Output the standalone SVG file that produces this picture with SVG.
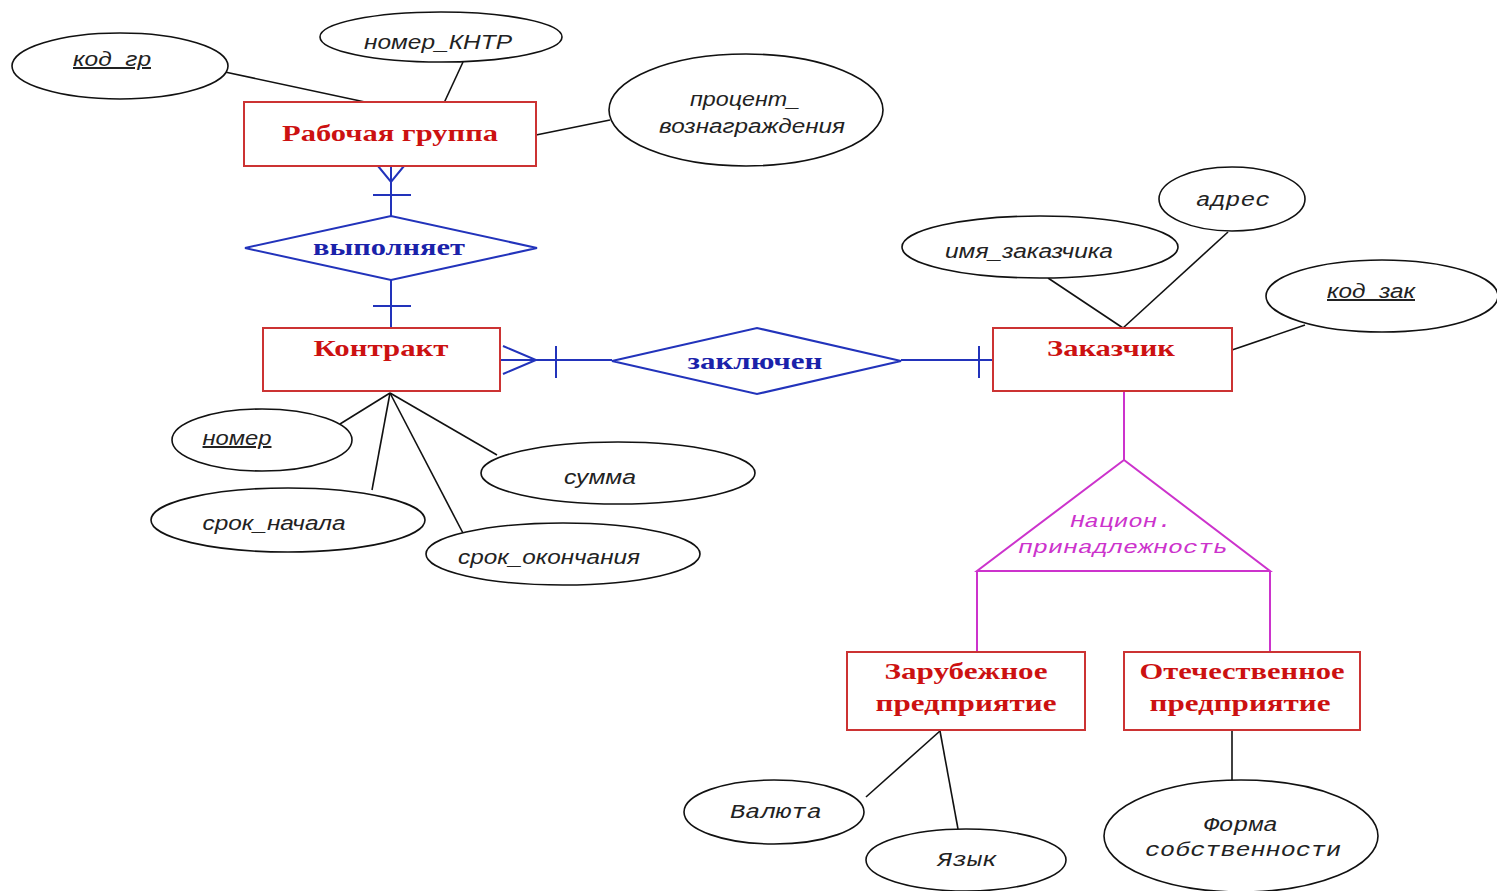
<svg xmlns="http://www.w3.org/2000/svg" width="1497" height="891" viewBox="0 0 1497 891">
<style>
.ent rect{fill:#fff;stroke:#cc3333;stroke-width:2}
.ent text{font-family:"Liberation Serif",serif;font-weight:bold;font-size:24px;fill:#cc1111;text-anchor:middle}
.rel polygon{fill:#fff;stroke:#2233bb;stroke-width:2}
.rel text{font-family:"Liberation Serif",serif;font-weight:bold;font-size:24px;fill:#1a22aa;text-anchor:middle}
.att ellipse{fill:#fff;stroke:#111;stroke-width:1.6}
.att text{font-family:"Liberation Sans",sans-serif;font-style:italic;font-size:20px;fill:#222;text-anchor:middle}
.att text.mono{font-family:"Liberation Mono",monospace}
.u{text-decoration:underline}
.ln{stroke:#111;stroke-width:1.6;fill:none}
.bl{stroke:#2233bb;stroke-width:2;fill:none}
.mg{stroke:#cc33cc;stroke-width:2;fill:none}
.mgt{font-family:"Liberation Mono",monospace;font-style:italic;font-size:19px;fill:#cc33cc;text-anchor:middle}
</style>
<rect width="1497" height="891" fill="#fff"/>
<g id="connectors">
<line class="ln" x1="225" y1="72" x2="365" y2="102"/>
<line class="ln" x1="463" y1="62" x2="444" y2="103"/>
<line class="ln" x1="536" y1="135" x2="610" y2="120"/>
<line class="bl" x1="391" y1="166" x2="391" y2="216"/>
<path class="bl" d="M378,166 L391,182 L404,166"/>
<line class="bl" x1="373" y1="195" x2="411" y2="195"/>
<line class="bl" x1="391" y1="280" x2="391" y2="328"/>
<line class="bl" x1="373" y1="306" x2="411" y2="306"/>
<line class="bl" x1="500" y1="360" x2="612" y2="360"/>
<path class="bl" d="M503,346 L536,360 L503,374"/>
<line class="bl" x1="556" y1="346" x2="556" y2="378"/>
<line class="bl" x1="901" y1="360" x2="993" y2="360"/>
<line class="bl" x1="979" y1="346" x2="979" y2="378"/>
<line class="ln" x1="1048" y1="278" x2="1123" y2="328"/>
<line class="ln" x1="1228" y1="232" x2="1123" y2="328"/>
<line class="ln" x1="1232" y1="350" x2="1305" y2="325"/>
<line class="ln" x1="390" y1="393" x2="340" y2="424"/>
<line class="ln" x1="390" y1="393" x2="372" y2="490"/>
<line class="ln" x1="390" y1="393" x2="465" y2="537"/>
<line class="ln" x1="390" y1="393" x2="497" y2="455"/>
<line class="mg" x1="1124" y1="392" x2="1124" y2="460"/>
<path class="mg" d="M1124,460 L977,571 L1270,571 Z"/>
<line class="mg" x1="977" y1="571" x2="977" y2="652"/>
<line class="mg" x1="1270" y1="571" x2="1270" y2="652"/>
<line class="ln" x1="940" y1="731" x2="866" y2="797"/>
<line class="ln" x1="940" y1="731" x2="958" y2="829"/>
<line class="ln" x1="1232" y1="731" x2="1232" y2="780"/>
</g>
<g id="label-nacion"><text class="mgt" x="1121" y="527" textLength="102" lengthAdjust="spacingAndGlyphs">Национ.</text><text class="mgt" x="1123" y="553" textLength="210" lengthAdjust="spacingAndGlyphs">принадлежность</text></g>
<g id="e-rab" class="ent"><rect x="244" y="102" width="292" height="64"/><text x="390" y="141" textLength="216" lengthAdjust="spacingAndGlyphs">Рабочая группа</text></g>
<g id="e-kontrakt" class="ent"><rect x="263" y="328" width="237" height="63"/><text x="381" y="356" textLength="135" lengthAdjust="spacingAndGlyphs">Контракт</text></g>
<g id="e-zakazchik" class="ent"><rect x="993" y="328" width="239" height="63"/><text x="1111" y="356" textLength="128" lengthAdjust="spacingAndGlyphs">Заказчик</text></g>
<g id="e-zarub" class="ent"><rect x="847" y="652" width="238" height="78"/><text x="966" y="679" textLength="163" lengthAdjust="spacingAndGlyphs">Зарубежное</text><text x="966" y="711" textLength="181" lengthAdjust="spacingAndGlyphs">предприятие</text></g>
<g id="e-otech" class="ent"><rect x="1124" y="652" width="236" height="78"/><text x="1242" y="679" textLength="205" lengthAdjust="spacingAndGlyphs">Отечественное</text><text x="1240" y="711" textLength="181" lengthAdjust="spacingAndGlyphs">предприятие</text></g>
<g id="r-vypolnyaet" class="rel"><polygon points="245,248 391,216 537,248 391,280"/><text x="389" y="255" textLength="152" lengthAdjust="spacingAndGlyphs">выполняет</text></g>
<g id="r-zaklyuchen" class="rel"><polygon points="612,361 757,328 901,361 757,394"/><text x="755" y="369" textLength="135" lengthAdjust="spacingAndGlyphs">заключен</text></g>
<g id="a-kodgr" class="att"><ellipse cx="120" cy="66" rx="108" ry="33"/><text class="u" x="112" y="66" textLength="78" lengthAdjust="spacingAndGlyphs">код_гр</text></g>
<g id="a-nomerkntr" class="att"><ellipse cx="441" cy="37" rx="121" ry="25"/><text x="438" y="49" textLength="148" lengthAdjust="spacingAndGlyphs">номер_КНТР</text></g>
<g id="a-procent" class="att"><ellipse cx="746" cy="110" rx="137" ry="56"/><text x="745" y="106" textLength="110" lengthAdjust="spacingAndGlyphs">процент_</text><text x="752" y="133" textLength="186" lengthAdjust="spacingAndGlyphs">вознаграждения</text></g>
<g id="a-imya" class="att"><ellipse cx="1040" cy="247" rx="138" ry="31"/><text x="1029" y="258" textLength="168" lengthAdjust="spacingAndGlyphs">имя_заказчика</text></g>
<g id="a-adres" class="att"><ellipse cx="1232" cy="199" rx="73" ry="32"/><text class="mono" x="1233" y="206" textLength="74" lengthAdjust="spacingAndGlyphs">адрес</text></g>
<g id="a-kodzak" class="att"><ellipse cx="1382" cy="296" rx="116" ry="36"/><text class="u" x="1371" y="298" textLength="88" lengthAdjust="spacingAndGlyphs">код_зак</text></g>
<g id="a-nomer" class="att"><ellipse cx="262" cy="440" rx="90" ry="31"/><text class="u" x="237" y="445" textLength="69" lengthAdjust="spacingAndGlyphs">номер</text></g>
<g id="a-summa" class="att"><ellipse cx="618" cy="473" rx="137" ry="31"/><text x="600" y="484" textLength="72" lengthAdjust="spacingAndGlyphs">сумма</text></g>
<g id="a-sroknach" class="att"><ellipse cx="288" cy="520" rx="137" ry="32"/><text x="274" y="530" textLength="143" lengthAdjust="spacingAndGlyphs">срок_начала</text></g>
<g id="a-srokok" class="att"><ellipse cx="563" cy="554" rx="137" ry="31"/><text x="549" y="564" textLength="182" lengthAdjust="spacingAndGlyphs">срок_окончания</text></g>
<g id="a-valyuta" class="att"><ellipse cx="774" cy="812" rx="90" ry="32"/><text class="mono" x="776" y="818" textLength="92" lengthAdjust="spacingAndGlyphs">Валюта</text></g>
<g id="a-yazyk" class="att"><ellipse cx="966" cy="860" rx="100" ry="31"/><text class="mono" x="967" y="866" textLength="60" lengthAdjust="spacingAndGlyphs">Язык</text></g>
<g id="a-forma" class="att"><ellipse cx="1241" cy="836" rx="137" ry="56"/><text class="mono" x="1241" y="831" textLength="74" lengthAdjust="spacingAndGlyphs">Форма</text><text class="mono" x="1243" y="856" textLength="196" lengthAdjust="spacingAndGlyphs">собственности</text></g>
</svg>
